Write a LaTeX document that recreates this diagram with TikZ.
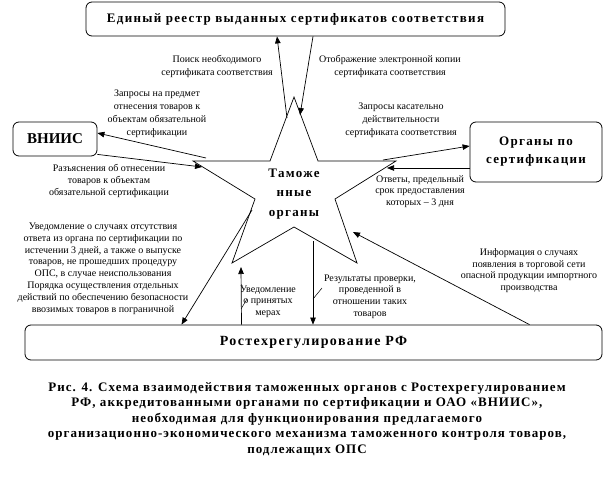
\documentclass[tikz,border=0pt]{standalone}
\usepackage{fontspec}
\setmainfont{Liberation Serif}
\newfontfamily\widefont[LetterSpace=10]{Liberation Serif}
\newfontfamily\capfont[LetterSpace=8]{Liberation Serif}
\usetikzlibrary{arrows.meta}

\tikzset{
  box/.style={draw, rounded corners=6pt, line width=0.8pt, inner sep=0pt, align=center},
  boxtext/.style={font=\widefont\fontsize{13}{18}\selectfont\bfseries},
  lbl/.style={align=center, inner sep=0pt, font=\fontsize{10}{12}\selectfont},
  arr/.style={-{Triangle[length=7pt,width=5.5pt]}, line width=0.7pt},
}

\begin{document}
\begin{tikzpicture}[x=1pt,y=-1pt]
\useasboundingbox (0,0) rectangle (614,482);

% boxes
\node[box, boxtext, minimum width=419pt, minimum height=34pt] (reestr) at (295.5,19)
  {Единый реестр выданных сертификатов соответствия};
\node[box, boxtext, minimum width=84pt, minimum height=34pt, font=\fontsize{15}{18}\selectfont\bfseries] (vniis) at (55,139) {ВНИИС};
\node[box, boxtext, minimum width=132pt, minimum height=60pt] (organy) at (536,152)
  {Органы по\\сертификации};
\node[box, boxtext, minimum width=577pt, minimum height=35pt, font=\widefont\fontsize{14}{18}\selectfont\bfseries] (rtr) at (313.5,342.5)
  {Ростехрегулирование РФ};

% star
\draw[line width=0.7pt] (294,97) coordinate (st) -- (318,161) -- (396,161) -- (335,199)
  -- (357,263) -- (294,227) -- (232,263) -- (255,199) -- (193,161) -- (270,161) -- cycle;
\node[boxtext, align=center, inner sep=0pt, font=\widefont\fontsize{13}{19.5}\selectfont\bfseries] (tamozh) at (294,194)
  {Таможе\\нные\\органы};

% ends on the star
\coordinate (s1) at (287,118);
\coordinate (s2) at (300,115);
\coordinate (s3) at (206,158);
\coordinate (s4) at (202,167);
\coordinate (s5) at (383,160);
\coordinate (s6) at (387,168);
\coordinate (s7) at (252,210);
\coordinate (s8) at (241,267);
\coordinate (s9) at (313,241);
\coordinate (s10) at (353,232);

% connectors
\draw[arr] (s1) -- ([xshift=-18.5pt]reestr.south);
\draw[arr] ([xshift=17.5pt]reestr.south) -- (s2);
\draw[arr] (s3) -- ([yshift=6pt]vniis.east);
\draw[arr] ([yshift=2pt]vniis.south east) -- (s4);
\draw[arr] (s5) -- ([yshift=6pt]organy.west);
\draw[arr] ([yshift=-16pt]organy.west) -- (s6);
\draw[arr] (s7) -- ([xshift=-132pt]rtr.north);
\draw[arr] ([xshift=-72pt]rtr.north) -- (s8);
\draw[arr] (s9) -- ([xshift=-0.5pt]rtr.north);
\draw[arr] ([xshift=216pt]rtr.north) -- (s10);

% labels
\node[lbl, font=\fontsize{10}{13}\selectfont] (l1) at (217,66.5) {Поиск необходимого\\сертификата соответствия};
\node[lbl, font=\fontsize{10}{13}\selectfont] (l2) at (390,66.5) {Отображение электронной копии\\сертификата соответствия};
\node[lbl, font=\fontsize{10}{13}\selectfont] (l3) at (157,113.5) {Запросы на предмет\\отнесения товаров к\\объектам обязательной\\сертификации};
\node[lbl] (l4) at (109,180.5) {Разъяснения об отнесении\\товаров к объектам\\обязательной сертификации};
\node[lbl, font=\fontsize{10}{13}\selectfont] (l5) at (401,120) {Запросы касательно\\действительности\\сертификата соответствия};
\node[lbl, font=\fontsize{10}{11.5}\selectfont] (l6) at (420,191.5) {Ответы, предельный\\срок предоставления\\которых – 3 дня};
\node[lbl, font=\fontsize{10}{11.8}\selectfont] (l7) at (103,268.5) {Уведомление о случаях отсутствия\\ответа из органа по сертификации по\\истечении 3 дней, а также о выпуске\\товаров, не прошедших процедуру\\ОПС, в случае неиспользования\\Порядка осуществления отдельных\\действий по обеспечению безопасности\\ввозимых товаров в пограничной};
\node[lbl, font=\fontsize{10}{11.5}\selectfont] (l8) at (268,301.5) {Уведомление\\о принятых\\мерах};
\node[lbl, font=\fontsize{10}{11.7}\selectfont] (l9) at (370,296.5) {Результаты проверки,\\проведенной в\\отношении таких\\товаров};
\node[lbl, font=\fontsize{10}{11.7}\selectfont] (l10) at (529,270.5) {Информация о случаях\\появления в торговой сети\\опасной продукции импортного\\производства};

% leaders
\draw[line width=0.5pt] (241,309) -- (247,299);
\draw[line width=0.5pt] (313,299) -- (322,288);

% caption
\node[align=center, inner sep=0pt, font=\capfont\fontsize{13}{15.5}\selectfont\bfseries] (caption) at (307,419)
  {Рис. 4. Схема взаимодействия таможенных органов с Ростехрегулированием\\
   РФ, аккредитованными органами по сертификации и ОАО «ВНИИС»,\\
   необходимая для функционирования предлагаемого\\
   организационно-экономического механизма таможенного контроля товаров,\\
   подлежащих ОПС};
\end{tikzpicture}
\end{document}
